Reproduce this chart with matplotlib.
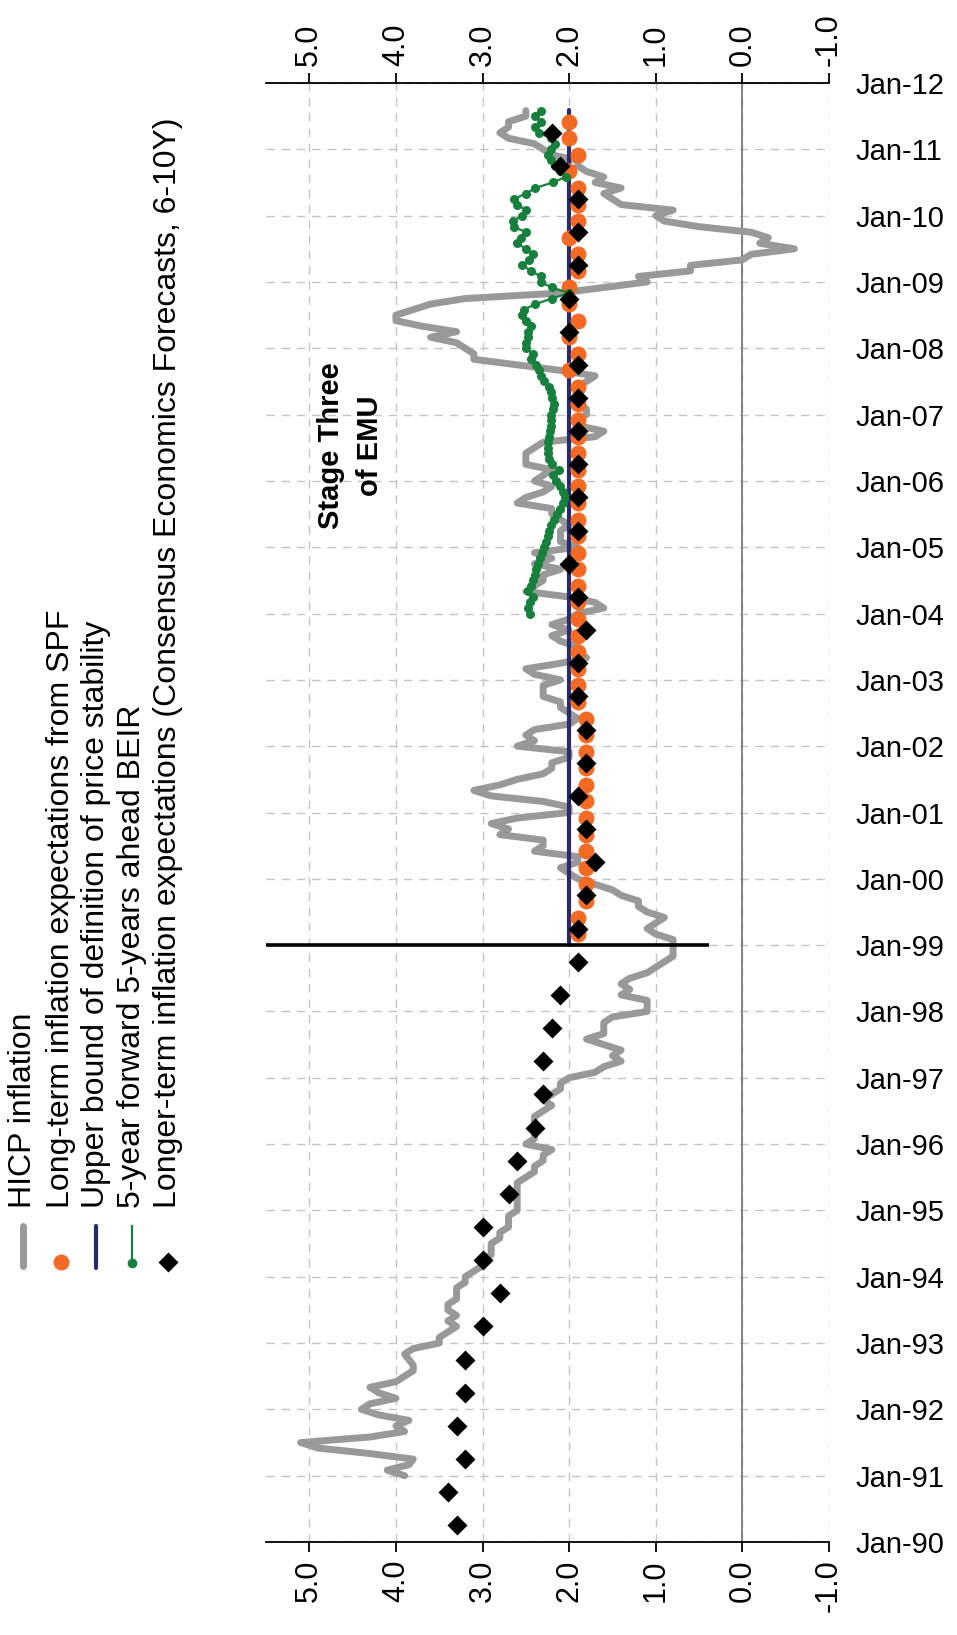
import matplotlib
matplotlib.use("Agg")
import matplotlib.pyplot as plt
from matplotlib.lines import Line2D
import numpy as np

plt.rcParams['font.family'] = ['Liberation Sans', 'DejaVu Sans']

# ---------------- data ----------------
# HICP inflation, monthly, Jan 1991 .. Aug 2011 (annual % change)
hicp_start_year = 1991
hicp_1991 = [3.9, 4.1, 3.85, 3.8, 4.3, 4.9, 5.1, 4.3, 3.9, 4.0, 3.85, 4.2]
hicp_1992 = [4.4, 4.3, 4.0, 4.2, 4.3, 4.0, 3.9, 3.8, 3.8, 3.85, 3.9, 3.8]
hicp_1993 = [3.5, 3.5, 3.4, 3.3, 3.4, 3.3, 3.4, 3.4, 3.3, 3.3, 3.3, 3.2]
hicp_1994 = [3.2, 3.1, 3.0, 3.0, 2.9, 2.9, 2.9, 2.8, 2.8, 2.7, 2.7, 2.7]
hicp_1995 = [2.6, 2.6, 2.6, 2.6, 2.6, 2.6, 2.5, 2.4, 2.4, 2.3, 2.3, 2.2]
hicp_1996 = [2.5, 2.4, 2.4, 2.4, 2.4, 2.4, 2.3, 2.2, 2.3, 2.2, 2.1, 2.1]
hicp_1997 = [2.0, 1.7, 1.6, 1.4, 1.5, 1.4, 1.6, 1.8, 1.6, 1.6, 1.6, 1.5]
hicp_1998 = [1.1, 1.1, 1.1, 1.4, 1.3, 1.4, 1.3, 1.1, 1.0, 0.9, 0.8, 0.8]
hicp_1999 = [0.8, 0.8, 1.0, 1.1, 1.0, 0.9, 1.1, 1.2, 1.2, 1.4, 1.5, 1.7]
hicp_2000 = [1.9, 2.0, 2.1, 1.9, 1.9, 2.4, 2.3, 2.3, 2.8, 2.7, 2.9, 2.6]
hicp_2001 = [2.0, 2.0, 2.3, 2.9, 3.1, 2.8, 2.6, 2.3, 2.2, 2.2, 2.0, 2.0]
hicp_2002 = [2.6, 2.4, 2.5, 2.4, 2.0, 1.9, 2.0, 2.1, 2.1, 2.3, 2.3, 2.3]
hicp_2003 = [2.1, 2.4, 2.5, 2.1, 1.8, 1.9, 1.9, 2.1, 2.2, 2.0, 2.2, 2.0]
hicp_2004 = [1.9, 1.6, 1.7, 2.0, 2.5, 2.4, 2.3, 2.3, 2.1, 2.4, 2.2, 2.4]
hicp_2005 = [1.9, 2.1, 2.1, 2.1, 2.0, 2.1, 2.2, 2.2, 2.6, 2.5, 2.3, 2.2]
hicp_2006 = [2.4, 2.3, 2.2, 2.5, 2.5, 2.5, 2.4, 2.3, 1.7, 1.6, 1.9, 1.9]
hicp_2007 = [1.8, 1.8, 1.9, 1.9, 1.9, 1.9, 1.8, 1.7, 2.1, 2.6, 3.1, 3.1]
hicp_2008 = [3.2, 3.3, 3.6, 3.3, 3.7, 4.0, 4.0, 3.8, 3.6, 3.2, 2.1, 1.6]
hicp_2009 = [1.1, 1.2, 0.6, 0.6, 0.0, -0.1, -0.6, -0.2, -0.3, -0.1, 0.5, 0.9]
hicp_2010 = [1.0, 0.8, 1.4, 1.5, 1.6, 1.4, 1.7, 1.6, 1.8, 1.9, 1.9, 2.2]
hicp_2011 = [2.3, 2.4, 2.7, 2.8, 2.7, 2.7, 2.5, 2.5]

# Long-term inflation expectations from SPF, quarterly 1999Q1 .. 2011Q2
spf_start_year = 1999
spf_values = [1.9, 1.9, 1.8, 1.8,
              1.8, 1.8, 1.8, 1.8,
              1.8, 1.8, 1.8, 1.8,
              1.8, 1.8, 1.9, 1.9,
              1.9, 1.9, 1.9, 1.9,
              1.9, 1.9, 1.9, 1.9,
              1.9, 1.9, 1.9, 1.9,
              1.9, 1.9, 1.9, 1.9,
              1.9, 1.9, 2.0, 1.9,
              2.0, 1.9, 2.0, 2.0,
              1.9, 1.9, 2.0, 1.9,
              1.9, 1.9, 2.0, 1.9,
              2.0, 2.0]

# Upper bound of definition of price stability
price_stability_bound = 2.0
bound_start = 1999.0
bound_end = 2011.6

# 5-year forward 5-years ahead BEIR, monthly Jan 2004 .. Aug 2011
beir_start_year = 2004
beir_values = [2.45, 2.47, 2.45, 2.42, 2.48, 2.44, 2.42, 2.40, 2.38, 2.36, 2.34, 2.31,
               2.29, 2.27, 2.25, 2.23, 2.21, 2.18, 2.14, 2.10, 2.07, 2.05, 2.07, 2.10,
               2.15, 2.19, 2.12, 2.20, 2.23, 2.24, 2.25, 2.24, 2.23, 2.22, 2.21, 2.21,
               2.21, 2.19, 2.18, 2.20, 2.21, 2.23, 2.29, 2.32, 2.35, 2.38, 2.44, 2.42,
               2.50, 2.50, 2.48, 2.47, 2.44, 2.50, 2.54, 2.52, 2.39, 2.20, 2.00, 2.20,
               2.33, 2.33, 2.44, 2.54, 2.46, 2.42, 2.50, 2.60, 2.56, 2.50, 2.64, 2.65,
               2.54, 2.50, 2.60, 2.64, 2.50, 2.39, 2.19, 2.04, 2.10, 2.16, 2.21, 2.24,
               2.21, 2.16, 2.21, 2.35, 2.39, 2.33, 2.39, 2.33]

# Longer-term inflation expectations (Consensus Economics), April & October 1990 .. April 2011
ce_start_year = 1990
ce_values = [3.3, 3.4, 3.2, 3.3, 3.2, 3.2, 3.0, 2.8, 3.0, 3.0,
             2.7, 2.6, 2.4, 2.3, 2.3, 2.2, 2.1, 1.9, 1.9, 1.8,
             1.7, 1.8, 1.9, 1.8, 1.8, 1.9, 1.9, 1.8, 1.9, 2.0,
             1.9, 1.9, 1.9, 1.9, 1.9, 1.9, 2.0, 2.0, 1.9, 1.9,
             1.9, 2.1, 2.2]

# Stage Three of EMU marker
emu_start = 1999.0
emu_line_from = 5.5
emu_line_to = 0.38

year_ticks = list(range(1990, 2013))
year_labels = ["Jan-%02d" % (y % 100) for y in year_ticks]
value_ticks = [5.0, 4.0, 3.0, 2.0, 1.0, 0.0, -1.0]

legend_labels = ["HICP inflation",
                 "Long-term inflation expectations from SPF",
                 "Upper bound of definition of price stability",
                 "5-year forward 5-years ahead BEIR",
                 "Longer-term inflation expectations (Consensus Economics Forecasts, 6-10Y)"]

# ---------------- derived positions ----------------
hicp = (hicp_1991 + hicp_1992 + hicp_1993 + hicp_1994 + hicp_1995 + hicp_1996 +
        hicp_1997 + hicp_1998 + hicp_1999 + hicp_2000 + hicp_2001 + hicp_2002 +
        hicp_2003 + hicp_2004 + hicp_2005 + hicp_2006 + hicp_2007 + hicp_2008 +
        hicp_2009 + hicp_2010 + hicp_2011)
hicp_t = hicp_start_year + np.arange(len(hicp)) / 12.0
spf_t = spf_start_year + (2 + 3 * np.arange(len(spf_values))) / 12.0
beir_t = beir_start_year + np.arange(len(beir_values)) / 12.0
ce_t = ce_start_year + 0.25 + 0.5 * np.arange(len(ce_values))

GRAY = '#999999'
ORANGE = '#f36a25'
NAVY = '#272a6d'
GREEN = '#16803c'

W, H = 957, 1635
fig = plt.figure(figsize=(W / 100, H / 100), dpi=100)


def fx(x):
    return x / W


def fy(y):
    return 1 - y / H


ax = fig.add_axes([fx(266), fy(1542), fx(829) - fx(266), fy(83) - fy(1542)])
ax.set_xlim(5.5, -1.0)
ax.set_ylim(1990, 2012)

# grid
for v in value_ticks:
    ax.axvline(v, color='#c4c4c4', lw=1.0, ls=(0, (6, 5)), zorder=0)
for y in year_ticks:
    ax.axhline(y, color='#c4c4c4', lw=1.0, ls=(0, (6, 5)), zorder=0)
ax.axvline(0.0, color='#7a7a7a', lw=1.3, zorder=1)

# series
ax.plot(hicp, hicp_t, color=GRAY, lw=5.0, solid_capstyle='round', solid_joinstyle='round', zorder=2)
ax.plot([price_stability_bound, price_stability_bound], [bound_start, bound_end],
        color=NAVY, lw=3.0, solid_capstyle='round', zorder=3)
ax.plot(spf_values, spf_t, 'o', color=ORANGE, ms=11.5, mec='none', zorder=4)
ax.plot(beir_values, beir_t, '-o', color=GREEN, lw=1.6, ms=6.5, mec='none', zorder=5)
ax.plot(ce_values, ce_t, 'D', color='black', ms=10.5, mec='none', zorder=6)
ax.plot([emu_line_from, emu_line_to], [emu_start, emu_start], color='black', lw=2.6,
        solid_capstyle='butt', zorder=7)

ax.text(4.53, 2006.53, "Stage Three\nof EMU", rotation=90, ha='center', va='center',
        multialignment='center', fontweight='bold', fontsize=21, linespacing=1.5, zorder=8)

# axes styling
for s in ['left', 'right']:
    ax.spines[s].set_visible(False)
for s in ['top', 'bottom']:
    ax.spines[s].set_linewidth(1.3)
ax.set_xticks(value_ticks)
ax.set_xticklabels(["%.1f" % v for v in value_ticks])
ax.tick_params(axis='x', which='both', top=True, bottom=True, labeltop=True, labelbottom=True,
               direction='out', length=7.5, width=1.3, labelrotation=90, labelsize=22, pad=5)
ax.set_yticks(year_ticks)
ax.set_yticklabels(year_labels)
ax.yaxis.tick_right()
ax.tick_params(axis='y', which='both', left=False, right=False, length=0, labelsize=21, pad=19)

# legend (rotated, drawn on the figure)
leg_x = [23, 61, 96, 132, 168]
text_base = 1208
for i, (x, lab) in enumerate(zip(leg_x, legend_labels)):
    fig.text(fx(x), fy(text_base), lab, rotation=90, rotation_mode='anchor',
             ha='left', va='center', fontsize=23)
fig.add_artist(Line2D([fx(leg_x[0])] * 2, [fy(1226), fy(1266)], color=GRAY, lw=5.0,
                      solid_capstyle='round', transform=fig.transFigure))
fig.add_artist(Line2D([fx(leg_x[1])], [fy(1262)], marker='o', color=ORANGE, ms=11.5, mec='none',
                      transform=fig.transFigure))
fig.add_artist(Line2D([fx(leg_x[2])] * 2, [fy(1226), fy(1268)], color=NAVY, lw=3.0,
                      solid_capstyle='round', transform=fig.transFigure))
fig.add_artist(Line2D([fx(leg_x[3])] * 2, [fy(1226), fy(1263)], color=GREEN, lw=1.6,
                      transform=fig.transFigure))
fig.add_artist(Line2D([fx(leg_x[3])], [fy(1263)], marker='o', color=GREEN, ms=7, mec='none',
                      transform=fig.transFigure))
fig.add_artist(Line2D([fx(leg_x[4])], [fy(1262)], marker='D', color='black', ms=10.5, mec='none',
                      transform=fig.transFigure))

fig.savefig("out.png", dpi=100)
